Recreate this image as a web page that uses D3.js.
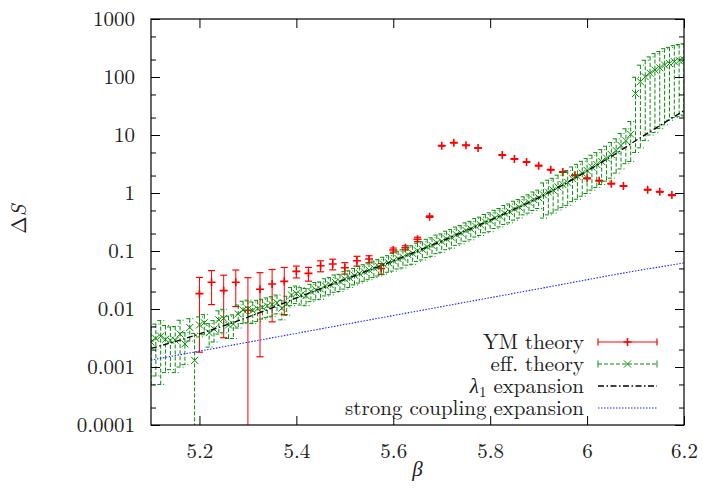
<!DOCTYPE html>
<html>
<head>
<meta charset="utf-8">
<script src="https://cdn.jsdelivr.net/npm/d3@7"></script>
<style>
body { margin: 0; background: #fff; }
</style>
</head>
<body>
<svg id="chart" width="703" height="490"></svg>
<script>
// ---- data ----
var ymBeta = [5.200,5.225,5.250,5.275,5.300,5.325,5.350,5.375,5.400,5.425,5.450,5.475,5.500,5.525,5.550,5.575,5.600,5.625,5.650,5.675,
  5.700,5.725,5.750,5.775,5.825,5.850,5.875,5.900,5.925,5.950,5.975,6.000,6.025,6.050,6.075,6.125,6.150,6.175];
var ymVal = [0.0184,0.0289,0.0207,0.029,0.0095,0.0219,0.027,0.030,0.0446,0.0412,0.0558,0.0597,0.0515,0.068,0.0728,0.050,0.104,0.114,0.159,0.391,
  6.54,7.37,6.64,5.97,4.52,3.85,3.42,2.96,2.52,2.30,2.02,1.79,1.63,1.45,1.32,1.14,1.05,0.92];
var ymErr = [0.0166,0.017,0.0175,0.018,0.0252,0.0204,0.021,0.022,0.0103,0.011,0.012,0.0124,0.0115,0.013,0.010,0.0107,0.0085,0.009,0.0135,0.012,
  0.1,0.1,0.1,0.09,0.07,0.06,0.05,0.04,0.04,0.035,0.03,0.03,0.025,0.02,0.02,0.02,0.02,0.02];

var effBeta = [5.10,5.11,5.12,5.13,5.14,5.15,5.16,5.17,5.18,5.19,
  5.20,5.21,5.22,5.23,5.24,5.25,5.26,5.27,5.28,5.29,
  5.30,5.31,5.32,5.33,5.34,5.35,5.36,5.37,5.38,5.39,
  5.40,5.41,5.42,5.43,5.44,5.45,5.46,5.47,5.48,5.49,
  5.50,5.51,5.52,5.53,5.54,5.55,5.56,5.57,5.58,5.59,
  5.60,5.61,5.62,5.63,5.64,5.65,5.66,5.67,5.68,5.69,
  5.70,5.71,5.72,5.73,5.74,5.75,5.76,5.77,5.78,5.79,
  5.80,5.81,5.82,5.83,5.84,5.85,5.86,5.87,5.88,5.89,
  5.90,5.91,5.92,5.93,5.94,5.95,5.96,5.97,5.98,5.99,
  6.00,6.01,6.02,6.03,6.04,6.05,6.06,6.07,6.08,6.09,
  6.10,6.11,6.12,6.13,6.14,6.15,6.16,6.17,6.18,6.19,6.20];
var effVal = [0.0027,0.0031,0.0034,0.0030,0.0029,0.0029,0.0037,0.0025,0.0048,0.0013,
  0.0053,0.0058,0.0039,0.0045,0.0065,0.0069,0.0053,0.0055,0.0082,0.0096,
  0.0100,0.0094,0.0101,0.0107,0.0113,0.0119,0.0128,0.0103,0.0122,0.0174,
  0.0186,0.0175,0.0170,0.0200,0.0215,0.0220,0.0250,0.0262,0.0290,0.0298,
  0.0330,0.0345,0.0380,0.0410,0.0440,0.0470,0.0510,0.0540,0.0590,0.0630,
  0.068,0.074,0.078,0.087,0.091,0.101,0.107,0.118,0.125,0.139,
  0.146,0.162,0.173,0.192,0.204,0.226,0.240,0.268,0.284,0.316,
  0.335,0.374,0.400,0.447,0.476,0.53,0.57,0.64,0.69,0.77,
  0.83,0.93,1.04,1.12,1.27,1.40,1.52,1.76,1.95,2.20,
  2.45,2.80,3.10,3.50,4.00,4.60,5.40,6.60,8.00,10.3,
  52,83,101,116,132,144,161,171,184,192,198];
var effErr = [0.0022,0.0024,0.0029,0.0022,0.0020,0.0021,0.0027,0.0014,0.0020,0.0025,
  0.0020,0.0022,0.0017,0.0018,0.0028,0.0030,0.0022,0.0024,0.0035,0.0040,
  0.0042,0.0038,0.0040,0.0040,0.0042,0.0044,0.0046,0.0038,0.0044,0.0060,
  0.0062,0.0058,0.0056,0.0066,0.0071,0.0073,0.0082,0.0086,0.0096,0.0098,
  0.011,0.011,0.012,0.013,0.014,0.015,0.016,0.017,0.019,0.020,
  0.023,0.025,0.027,0.030,0.032,0.035,0.037,0.041,0.044,0.049,
  0.051,0.057,0.061,0.067,0.071,0.079,0.084,0.094,0.099,0.11,
  0.12,0.13,0.14,0.16,0.17,0.19,0.20,0.22,0.24,0.27,
  0.29,0.56,0.62,0.67,0.76,0.84,0.91,1.05,1.17,1.32,
  1.47,1.68,1.86,2.1,2.4,2.8,3.2,4.0,4.8,6.8,
  47,77,93,106,121,131,146,153,164,171,176];

var lamBeta = [5.10,5.15,5.20,5.25,5.30,5.35,5.40,5.45,5.50,5.55,5.60,5.65,5.70,5.75,5.80,5.85,5.90,5.95,6.00,6.05,6.10,6.15,6.20];
var lamVal = [0.00209,0.00275,0.00372,0.00513,0.00724,0.0105,0.0155,0.0224,0.0324,0.0468,0.0676,0.100,0.148,0.224,0.339,0.525,0.832,1.38,2.40,4.27,7.94,14.5,26.3];

var scBeta = [5.1,5.3,5.5,5.7,5.9,6.1,6.2];
var scVal = [0.00132,0.00267,0.00542,0.0110,0.0223,0.0453,0.0620];

var xTicks = [5.2,5.4,5.6,5.8,6,6.2];
var xTickLabels = ["5.2","5.4","5.6","5.8","6","6.2"];
var yTicks = [1e-4,1e-3,1e-2,1e-1,1,10,100,1000];
var yTickLabels = ["0.0001","0.001","0.01","0.1","1","10","100","1000"];
var yMinor = [2e-4,5e-4,2e-3,5e-3,2e-2,5e-2,0.2,0.5,2,5,20,50,200,500];
var legendLabels = ["YM theory", "eff. theory", "λ1 expansion", "strong coupling expansion"];

// ---- layout ----
var FONT = "'Latin Modern Roman', 'Liberation Serif', 'Times New Roman'";
var FS = 21;
var m = {left: 151, right: 684, top: 19, bottom: 425};
var red = "#ff0000", green = "#0a8a0a", blue = "#2020ff";

var x = d3.scaleLinear().domain([5.1, 6.2]).range([m.left, m.right]);
var y = d3.scaleLog().domain([1e-4, 1e3]).range([m.bottom, m.top]);

var svg = d3.select("#chart");

svg.append("defs").append("clipPath").attr("id", "clip")
  .append("rect")
  .attr("x", m.left).attr("y", m.top)
  .attr("width", m.right - m.left).attr("height", m.bottom - m.top);

function ypos(v) { return v > 0 ? y(v) : m.bottom + 20; }

var plot = svg.append("g").attr("clip-path", "url(#clip)");

// YM theory
var ym = ymBeta.map(function(b, i) { return {b: b, v: ymVal[i], e: ymErr[i]}; });
var gYm = plot.append("g");
gYm.selectAll(".bar").data(ym).enter().append("line")
  .attr("x1", d => x(d.b)).attr("x2", d => x(d.b))
  .attr("y1", d => y(d.v + d.e)).attr("y2", d => ypos(d.v - d.e))
  .attr("stroke", red).attr("stroke-width", 1);
gYm.selectAll(".capT").data(ym).enter().append("line")
  .attr("x1", d => x(d.b) - 3.5).attr("x2", d => x(d.b) + 3.5)
  .attr("y1", d => y(d.v + d.e)).attr("y2", d => y(d.v + d.e))
  .attr("stroke", red).attr("stroke-width", 1.2);
gYm.selectAll(".capB").data(ym.filter(d => d.v - d.e > 0)).enter().append("line")
  .attr("x1", d => x(d.b) - 3.5).attr("x2", d => x(d.b) + 3.5)
  .attr("y1", d => y(d.v - d.e)).attr("y2", d => y(d.v - d.e))
  .attr("stroke", red).attr("stroke-width", 1.2);
gYm.selectAll(".pt").data(ym).enter().append("path")
  .attr("d", d => { var px = x(d.b), py = y(d.v);
    return "M" + (px - 4) + "," + py + "H" + (px + 4) + "M" + px + "," + (py - 4) + "V" + (py + 4); })
  .attr("stroke", red).attr("stroke-width", 1.6).attr("fill", "none");

// eff. theory
var eff = effBeta.map(function(b, i) { return {b: b, v: effVal[i], e: effErr[i]}; });
var gEff = plot.append("g");
gEff.selectAll(".bar").data(eff).enter().append("line")
  .attr("x1", d => x(d.b)).attr("x2", d => x(d.b))
  .attr("y1", d => y(d.v + d.e)).attr("y2", d => ypos(d.v - d.e))
  .attr("stroke", green).attr("stroke-width", 1).attr("stroke-dasharray", "4,2");
gEff.selectAll(".capT").data(eff).enter().append("line")
  .attr("x1", d => x(d.b) - 3.5).attr("x2", d => x(d.b) + 3.5)
  .attr("y1", d => y(d.v + d.e)).attr("y2", d => y(d.v + d.e))
  .attr("stroke", green).attr("stroke-width", 1).attr("stroke-dasharray", "4,2");
gEff.selectAll(".capB").data(eff.filter(d => d.v - d.e > 0)).enter().append("line")
  .attr("x1", d => x(d.b) - 3.5).attr("x2", d => x(d.b) + 3.5)
  .attr("y1", d => y(d.v - d.e)).attr("y2", d => y(d.v - d.e))
  .attr("stroke", green).attr("stroke-width", 1).attr("stroke-dasharray", "4,2");
gEff.selectAll(".pt").data(eff).enter().append("path")
  .attr("d", d => { var px = x(d.b), py = y(d.v), s = 3.5;
    return "M" + (px - s) + "," + (py - s) + "L" + (px + s) + "," + (py + s) +
           "M" + (px - s) + "," + (py + s) + "L" + (px + s) + "," + (py - s); })
  .attr("stroke", green).attr("stroke-width", 1).attr("fill", "none");

// lambda_1 expansion
var line = d3.line().x(d => x(d[0])).y(d => y(d[1])).curve(d3.curveMonotoneX);
plot.append("path")
  .datum(lamBeta.map((b, i) => [b, lamVal[i]]))
  .attr("d", line)
  .attr("fill", "none").attr("stroke", "#000").attr("stroke-width", 1.3)
  .attr("stroke-dasharray", "6,2.5,1.5,2.5");

// strong coupling expansion
plot.append("path")
  .datum(scBeta.map((b, i) => [b, scVal[i]]))
  .attr("d", line)
  .attr("fill", "none").attr("stroke", blue).attr("stroke-width", 1.1)
  .attr("stroke-dasharray", "1.5,1.5");

// ---- axes ----
function styleAxis(g) {
  g.select(".domain").remove();
  g.selectAll(".tick line").attr("stroke", "#000");
  g.selectAll(".tick text").attr("fill", "#222")
    .style("font-family", FONT).style("font-size", FS + "px");
}

svg.append("g").attr("transform", "translate(0," + m.bottom + ")")
  .call(d3.axisBottom(x).tickValues(xTicks).tickFormat((d, i) => xTickLabels[i])
    .tickSizeInner(-9).tickSizeOuter(0).tickPadding(18))
  .call(styleAxis);
svg.append("g").attr("transform", "translate(0," + m.top + ")")
  .call(d3.axisTop(x).tickValues(xTicks).tickFormat("").tickSizeInner(-9).tickSizeOuter(0))
  .call(styleAxis);

svg.append("g").attr("transform", "translate(" + m.left + ",0)")
  .call(d3.axisLeft(y).tickValues(yTicks).tickFormat((d, i) => yTickLabels[i])
    .tickSizeInner(-9).tickSizeOuter(0).tickPadding(16))
  .call(styleAxis);
svg.append("g").attr("transform", "translate(" + m.left + ",0)")
  .call(d3.axisLeft(y).tickValues(yMinor).tickFormat("").tickSizeInner(-5).tickSizeOuter(0))
  .call(styleAxis);
svg.append("g").attr("transform", "translate(" + m.right + ",0)")
  .call(d3.axisRight(y).tickValues(yTicks).tickFormat("").tickSizeInner(-9).tickSizeOuter(0))
  .call(styleAxis);
svg.append("g").attr("transform", "translate(" + m.right + ",0)")
  .call(d3.axisRight(y).tickValues(yMinor).tickFormat("").tickSizeInner(-5).tickSizeOuter(0))
  .call(styleAxis);

svg.append("rect")
  .attr("x", m.left).attr("y", m.top)
  .attr("width", m.right - m.left).attr("height", m.bottom - m.top)
  .attr("fill", "none").attr("stroke", "#000").attr("stroke-width", 1.2);

// axis titles
var yl = svg.append("text")
  .attr("transform", "translate(26,219) rotate(-90)")
  .attr("text-anchor", "middle").attr("fill", "#222")
  .style("font-family", FONT).style("font-size", FS + "px");
yl.append("tspan").text("Δ");
yl.append("tspan").style("font-style", "italic").text("S");

svg.append("text")
  .attr("x", (m.left + m.right) / 2).attr("y", 476)
  .attr("text-anchor", "middle").attr("fill", "#222")
  .style("font-family", FONT).style("font-size", FS + "px").style("font-style", "italic")
  .text("β");

// ---- legend ----
var legY = [342, 364, 386, 408];
var lx0 = 598, lx1 = 657, ltx = 584;
var leg = svg.append("g");

legendLabels.forEach(function(lab, i) {
  var t = leg.append("text").attr("x", ltx).attr("y", legY[i]).attr("dy", "0.33em")
    .attr("text-anchor", "end").attr("fill", "#222")
    .style("font-family", FONT).style("font-size", FS + "px");
  if (lab.indexOf("λ1") === 0) {
    t.append("tspan").style("font-style", "italic").text("λ");
    t.append("tspan").style("font-size", "15px").attr("dy", "0.3em").text("1");
    t.append("tspan").attr("dy", "-0.2em").text(lab.slice(2));
  } else {
    t.text(lab);
  }
});

// YM sample
leg.append("line").attr("x1", lx0).attr("x2", lx1).attr("y1", legY[0]).attr("y2", legY[0])
  .attr("stroke", red).attr("stroke-width", 1);
[lx0, lx1].forEach(function(px) {
  leg.append("line").attr("x1", px).attr("x2", px).attr("y1", legY[0] - 3.5).attr("y2", legY[0] + 3.5)
    .attr("stroke", red).attr("stroke-width", 1.2);
});
leg.append("path")
  .attr("d", "M" + ((lx0 + lx1) / 2 - 4) + "," + legY[0] + "h8M" + (lx0 + lx1) / 2 + "," + (legY[0] - 4) + "v8")
  .attr("stroke", red).attr("stroke-width", 1.6);

// eff sample
leg.append("line").attr("x1", lx0).attr("x2", lx1).attr("y1", legY[1]).attr("y2", legY[1])
  .attr("stroke", green).attr("stroke-width", 1).attr("stroke-dasharray", "4,2");
[lx0, lx1].forEach(function(px) {
  leg.append("line").attr("x1", px).attr("x2", px).attr("y1", legY[1] - 3.5).attr("y2", legY[1] + 3.5)
    .attr("stroke", green).attr("stroke-width", 1);
});
(function() {
  var px = (lx0 + lx1) / 2, py = legY[1], s = 3.5;
  leg.append("path")
    .attr("d", "M" + (px - s) + "," + (py - s) + "L" + (px + s) + "," + (py + s) +
               "M" + (px - s) + "," + (py + s) + "L" + (px + s) + "," + (py - s))
    .attr("stroke", green).attr("stroke-width", 1).attr("fill", "none");
})();

// lambda sample
leg.append("line").attr("x1", lx0).attr("x2", lx1).attr("y1", legY[2]).attr("y2", legY[2])
  .attr("stroke", "#000").attr("stroke-width", 1.3).attr("stroke-dasharray", "6,2.5,1.5,2.5");
// strong coupling sample
leg.append("line").attr("x1", lx0).attr("x2", lx1).attr("y1", legY[3]).attr("y2", legY[3])
  .attr("stroke", blue).attr("stroke-width", 1.1).attr("stroke-dasharray", "1.5,1.5");
</script>
</body>
</html>
